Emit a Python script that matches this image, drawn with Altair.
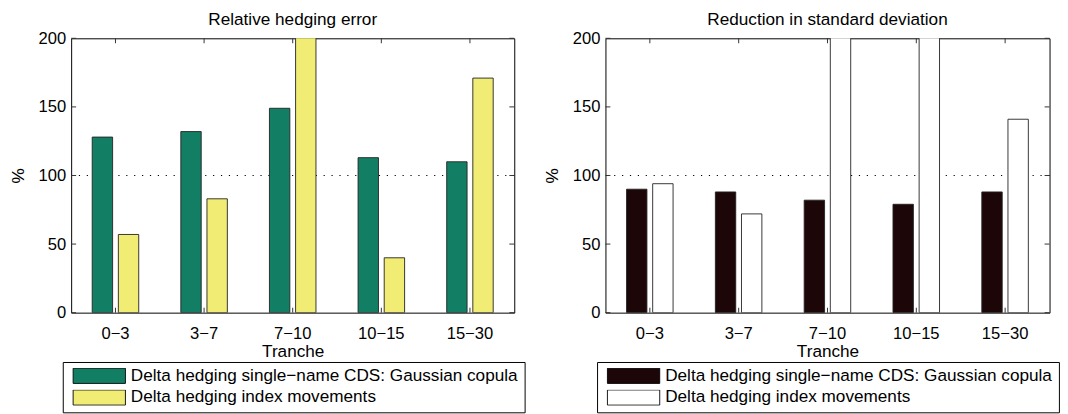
import altair as alt
import pandas as pd

tranches = ["0−3", "3−7", "7−10", "10−15", "15−30"]
series = ["Delta hedging single−name CDS: Gaussian copula", "Delta hedging index movements"]
rel_single = [128, 132, 149, 113, 110]
rel_index = [57, 83, 240, 40, 171]
red_single = [90, 88, 82, 79, 88]
red_index = [94, 72, 240, 240, 141]
y_ticks = [0, 50, 100, 150, 200]
left_colors = ["#127F65", "#F0EC74"]
right_colors = ["#1C0608", "#FFFFFF"]

FONT = "Liberation Sans"


def frame(a, b):
    rows = []
    for t, v in zip(tranches, a):
        rows.append({"tranche": t, "series": series[0], "value": v})
    for t, v in zip(tranches, b):
        rows.append({"tranche": t, "series": series[1], "value": v})
    return pd.DataFrame(rows)


def panel(df, colors, title, W, H):
    xscale = alt.Scale(domain=tranches, paddingInner=0.475, paddingOuter=0.2375)
    yscale = alt.Scale(domain=[0, 200], nice=False)
    xaxis = alt.Axis(title="Tranche", labelFontSize=16.8, titleFontSize=17.4, labelPadding=13,
                     titlePadding=0.5, ticks=False, domain=False, labelAngle=0,
                     titleFontWeight="normal", labelFont=FONT, titleFont=FONT,
                     labelColor="black", titleColor="black")
    yaxis = alt.Axis(title="%", values=y_ticks, labelFontSize=16.8, titleFontSize=17.4,
                     labelPadding=5.5, titlePadding=11, ticks=False, domain=False, grid=False,
                     titleFontWeight="normal", labelFont=FONT, titleFont=FONT,
                     labelColor="black", titleColor="black")
    x = alt.X("tranche:N", scale=xscale, axis=xaxis, sort=tranches)
    y = alt.Y("value:Q", scale=yscale, axis=yaxis)

    ref = alt.Chart(pd.DataFrame({"value": [100]})).mark_rule(
        color="black", strokeDash=[1.2, 6.8], strokeWidth=1.2).encode(y=y)

    bars = alt.Chart(df).mark_bar(clip=True, stroke="#222", strokeWidth=0.9).encode(
        x=x,
        xOffset=alt.XOffset("series:N", sort=series,
                            scale=alt.Scale(domain=series, paddingInner=0.22, paddingOuter=0)),
        y=y,
        fill=alt.Fill("series:N", sort=series,
                      scale=alt.Scale(domain=series, range=colors),
                      legend=alt.Legend(orient="none", legendX=-8.5, legendY=328, title=None,
                                        labelFontSize=17.4, labelFont=FONT, labelColor="black",
                                        labelLimit=700, clipHeight=16,
                                        symbolType="M-1,-0.29H1V0.29H-1Z", symbolSize=2809,
                                        symbolStrokeColor="black", symbolStrokeWidth=0.9,
                                        symbolOpacity=1, strokeColor="black",
                                        fillColor="white", padding=6, rowPadding=4,
                                        symbolOffset=4, labelOffset=5)),
    )

    ytdf = pd.DataFrame({"value": y_ticks})
    yl = alt.Chart(ytdf).mark_rule(color="#333", strokeWidth=1).encode(
        y=y, x=alt.value(0), x2=alt.value(5))
    yr = alt.Chart(ytdf).mark_rule(color="#333", strokeWidth=1).encode(
        y=y, x=alt.value(W - 5), x2=alt.value(W))
    xtdf = pd.DataFrame({"tranche": tranches})
    xband = alt.X("tranche:N", scale=xscale, axis=xaxis, sort=tranches, bandPosition=0.5)
    xt = alt.Chart(xtdf).mark_rule(color="#333", strokeWidth=1).encode(
        x=xband, y=alt.value(0), y2=alt.value(5))
    xb = alt.Chart(xtdf).mark_rule(color="#333", strokeWidth=1).encode(
        x=xband, y=alt.value(H - 5), y2=alt.value(H))

    return alt.layer(ref, bars, yl, yr, xt, xb).properties(
        width=W, height=H,
        title=alt.TitleParams(title, fontSize=17.4, font=FONT, fontWeight="normal",
                              color="black", offset=2),
    )


left = panel(frame(rel_single, rel_index), left_colors, "Relative hedging error", 449, 278)
right = panel(frame(red_single, red_index), right_colors, "Reduction in standard deviation", 450, 278)

chart = alt.hconcat(left, right, spacing=92.4, bounds="flush").resolve_scale(
    fill="independent", x="independent", y="independent"
).properties(
    padding={"left": 1, "top": 0, "right": 0, "bottom": 0}
).configure_view(stroke="black", strokeWidth=1)

chart.save("out.html", embed_options={"renderer": "svg", "actions": False})
